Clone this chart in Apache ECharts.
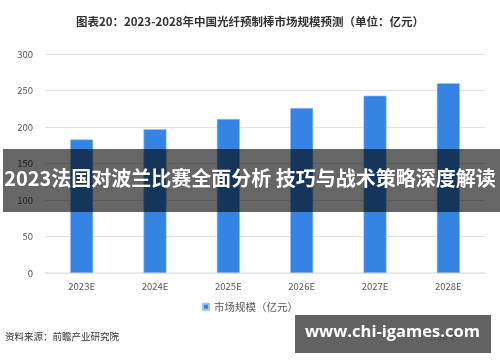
<!DOCTYPE html>
<html><head><meta charset="utf-8">
<script src="https://cdn.jsdelivr.net/npm/echarts@6/dist/echarts.min.js"></script>
<style>html,body{margin:0;padding:0;background:#fff}#c{width:500px;height:362px}</style>
</head><body><div id="c"></div>
<script>
var categories = ['2023E','2024E','2025E','2026E','2027E','2028E'];
var marketSize = [183, 197, 211, 226, 243, 260];
var yTicks = [0, 50, 100, 150, 200, 250, 300];
var titleText = '图表20：2023-2028年中国光纤预制棒市场规模预测（单位：亿元）';
var seriesName = '市场规模（亿元）';
var sourceText = '资料来源：前瞻产业研究院';
var bannerText = '2023法国对波兰比赛全面分析 技巧与战术策略深度解读';
var siteText = 'www.chi-igames.com';

var chart = echarts.init(document.getElementById('c'), null, {renderer:'canvas'});
var ff = '"Noto Sans CJK SC","Noto Sans",sans-serif';
chart.setOption({
  animation: false,
  title: {text: titleText, left: 'center', top: 11, textStyle: {fontSize: 11.5, fontWeight: 'bold', color: '#333', fontFamily: ff}},
  grid: {left: 45, right: 15, top: 54, bottom: 89},
  legend: {bottom: 45, left: 'center', itemWidth: 6, itemHeight: 6, itemGap: 4, icon: 'rect',
    textStyle: {fontSize: 10.5, color: '#595959', fontFamily: ff}, data: [seriesName]},
  xAxis: {type: 'category', data: categories,
    axisLine: {lineStyle: {color: '#e6e6e6', width: 1.5}}, axisTick: {show: false},
    axisLabel: {fontSize: 9.5, color: '#595959', margin: 9, fontFamily: ff}},
  yAxis: {type: 'value', min: yTicks[0], max: yTicks[yTicks.length-1], interval: 50,
    axisLine: {show: false}, axisTick: {show: false},
    splitLine: {lineStyle: {color: '#e3e3e3'}},
    axisLabel: {fontSize: 9.5, color: '#595959', margin: 12, fontFamily: ff}},
  series: [{name: seriesName, type: 'bar', data: marketSize, barWidth: 23,
    itemStyle: {color: '#3584e4', borderColor: '#9cc3f2', borderWidth: 0.6}}],
  graphic: [
    {type: 'text', left: 5, top: 332, style: {text: sourceText, fontSize: 9.5, fill: '#333', fontFamily: ff}},
    {type: 'rect', left: 3, top: 149, z: 100, shape: {width: 497, height: 63}, style: {fill: 'rgba(0,0,0,0.6)'}},
    {type: 'text', left: 'center', top: 168, z: 101, style: {text: bannerText, fontSize: 20, fontWeight: 'bold', fill: '#fff', fontFamily: ff}},
    {type: 'text', left: 430, top: 332, style: {text: '…APP', fontSize: 9, fill: '#333', fontFamily: ff}},
    {type: 'rect', left: 295, top: 315, z: 100, shape: {width: 196, height: 38}, style: {fill: 'rgba(70,70,70,0.85)'}},
    {type: 'text', left: 305, top: 324, z: 101, style: {text: siteText, fontSize: 16.5, fontWeight: 'bold', fill: '#fff', fontFamily: '"Open Sans","DejaVu Sans",sans-serif'}}
  ]
});
</script></body></html>
